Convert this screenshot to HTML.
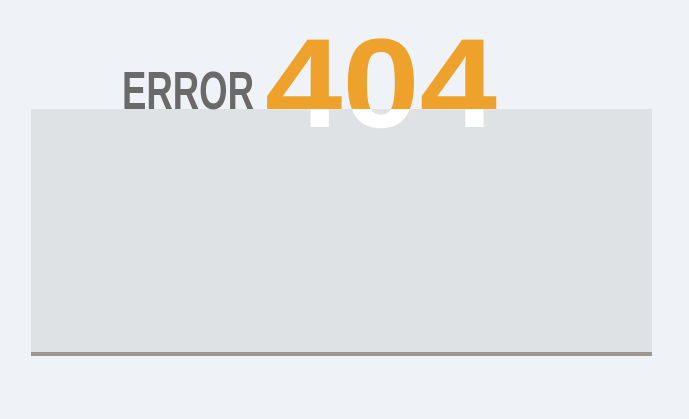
<!DOCTYPE html>
<html><head><meta charset="utf-8"><style>
html,body{margin:0;padding:0;width:689px;height:419px;overflow:hidden;background:#eff2f7;}
svg{display:block}
</style></head><body>
<svg width="689" height="419" viewBox="0 0 689 419">
  <defs>
    <clipPath id="above"><rect x="0" y="0" width="689" height="109"/></clipPath>
    <clipPath id="below"><rect x="0" y="109" width="689" height="300"/></clipPath>
  </defs>
  <rect x="31" y="109" width="621" height="243" fill="#dfe2e5"/>
  <rect x="31" y="352" width="621" height="4" fill="#9c9791"/>
  <text x="122" y="109" font-family="Liberation Sans Narrow, Liberation Sans, sans-serif" font-weight="bold" font-size="54" fill="#6a6a6a" textLength="132" lengthAdjust="spacingAndGlyphs">ERROR</text>
  <text x="265" y="127" font-family="Liberation Sans, sans-serif" font-weight="bold" font-size="127" fill="#eea22b" textLength="232" lengthAdjust="spacingAndGlyphs" clip-path="url(#above)">404</text>
  <text x="265" y="127" font-family="Liberation Sans, sans-serif" font-weight="bold" font-size="127" fill="#ffffff" textLength="232" lengthAdjust="spacingAndGlyphs" clip-path="url(#below)">404</text>
</svg>
</body></html>
